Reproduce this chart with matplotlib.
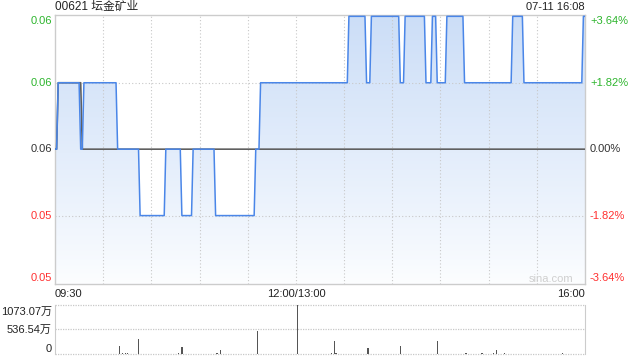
import numpy as np
import matplotlib
matplotlib.use('Agg')
import matplotlib.pyplot as plt

plt.rcParams['font.family'] = ['Liberation Sans', 'Noto Sans CJK SC', 'DejaVu Sans']

# 分时价格: 每段的价格和持续分钟数 (09:30-12:00, 13:00-16:00 共 331 个点)
price_levels = [0.055, 0.056, 0.055, 0.056, 0.055, 0.054, 0.055, 0.054, 0.055, 0.054,
                0.055, 0.056, 0.057, 0.056, 0.057, 0.056, 0.057, 0.056, 0.057, 0.056,
                0.057, 0.056, 0.057, 0.056, 0.057]
price_runs = [2, 14, 2, 21, 14, 16, 10, 7, 14, 25,
              3, 55, 11, 3, 18, 3, 13, 4, 3, 6,
              11, 30, 7, 37, 2]

# 均价线
avg_levels = [0.055, 0.056, 0.055]
avg_runs = [2, 15, 314]

# 成交量 (万)
vol_minutes = [40, 42, 44, 45, 52, 67, 77, 79, 101, 103, 126, 151, 172, 174, 175,
               195, 215, 238, 256, 266, 273, 275, 280, 316]
vol_values = [175, 20, 25, 15, 328, 10, 15, 153, 15, 88, 504, 1073.07, 20, 285, 15,
              131, 178, 290, 25, 15, 30, 88, 30, 20]

prev_close = 0.055
title = '00621 坛金矿业'
stamp = '07-11 16:08'
left_labels = ['0.06', '0.06', '0.06', '0.05', '0.05']
right_labels = ['+3.64%', '+1.82%', '0.00%', '-1.82%', '-3.64%']
label_prices = [0.057, 0.056, 0.055, 0.054, 0.053]
vol_ticks = [0, 536.54, 1073.07]
vol_labels = ['0', '536.54万', '1073.07万']

price = np.repeat(price_levels, price_runs)
avg = np.repeat(avg_levels, avg_runs)
t = np.arange(len(price))

W, H = 640, 360
fig = plt.figure(figsize=(6.4, 3.6), dpi=100)

def box(x0, y0, x1, y1):
    return [x0 / W, 1 - y1 / H, (x1 - x0) / W, (y1 - y0) / H]

ax = fig.add_axes(box(55, 15, 585, 284))
ymin, ymax = 0.05297, 0.05702
ax.set_xlim(0, 330)
ax.set_ylim(ymin, ymax)

# 渐变填充
grad = np.linspace(0, 1, 256).reshape(-1, 1)
top_c = np.array([0.80, 0.87, 0.97])
bot_c = np.array([0.99, 0.995, 1.0])
img = bot_c + (top_c - bot_c) * grad[::-1] ** 0.9
img = np.repeat(img[:, None, :], 2, axis=1).reshape(256, 2, 3)
im = ax.imshow(img, extent=[0, 330, ymin, ymax], aspect='auto', origin='upper', zorder=1)
poly = ax.fill_between(t, price, ymin, color='none', lw=0)
clip = poly.get_paths()[0]
im.set_clip_path(clip, transform=ax.transData)

for g in range(30, 330, 30):
    ax.axvline(g, color='#c8c8c8', lw=0.8, ls=(0, (1, 2)), zorder=2)
for p in [0.056, 0.054]:
    ax.axhline(p, color='#c8c8c8', lw=0.8, ls=(0, (1, 2)), zorder=2)

ax.plot(t, avg, color='#606060', lw=1.2, zorder=3)
ax.plot(t, price, color='#4a86e8', lw=1.1, zorder=4)

ax.set_xticks([])
ax.set_yticks([])
for s in ax.spines.values():
    s.set_color('#cccccc')
    s.set_linewidth(1)

colors = ['#2db52d', '#2db52d', '#333333', '#ff3030', '#ff3030']
offsets = [5, 0, 0, 0, -4]
for lp, ll, rl, c, off in zip(label_prices, left_labels, right_labels, colors, offsets):
    yy = ax.transData.transform((0, lp))[1]
    yf = (yy - off) / H
    fig.text(52 / W, yf, ll, color=c, fontsize=8, ha='right', va='center')
    fig.text(590 / W, yf, rl, color=c, fontsize=8, ha='left', va='center')

fig.text(55 / W, 1 - 7 / H, title, fontsize=8.5, color='#222222', ha='left', va='center')
fig.text(585 / W, 1 - 7 / H, stamp, fontsize=8, color='#222222', ha='right', va='center')
fig.text(55 / W, 1 - 294 / H, '09:30', fontsize=8, color='#222222', ha='left', va='center')
fig.text(296 / W, 1 - 294 / H, '12:00/13:00', fontsize=8, color='#222222', ha='center', va='center')
fig.text(585 / W, 1 - 294 / H, '16:00', fontsize=8, color='#222222', ha='right', va='center')
fig.text(573 / W, 1 - 279 / H, 'sina.com', fontsize=8, color='#cfcfcf', ha='right', va='center')

# 成交量
vx = fig.add_axes(box(55, 305, 585, 354))
vx.set_xlim(0, 330)
vx.set_ylim(0, 1073.07)
vx.bar(vol_minutes, vol_values, width=0.9, color='#555555', zorder=3)
for v in vol_ticks:
    vx.axhline(v, color='#c8c8c8', lw=0.9, ls=(0, (1, 1)), zorder=2, clip_on=False)
vx.set_xticks([])
vx.set_yticks([])
for k, s in vx.spines.items():
    if k in ('left', 'right'):
        s.set_color('#cccccc')
    else:
        s.set_visible(False)
for v, lab, off in zip(vol_ticks, vol_labels, [5, 0, -7]):
    yy = vx.transData.transform((0, v))[1]
    fig.text(52 / W, (yy + off) / H, lab, fontsize=8, color='#222222', ha='right', va='center')

fig.savefig('out.png', dpi=100)
